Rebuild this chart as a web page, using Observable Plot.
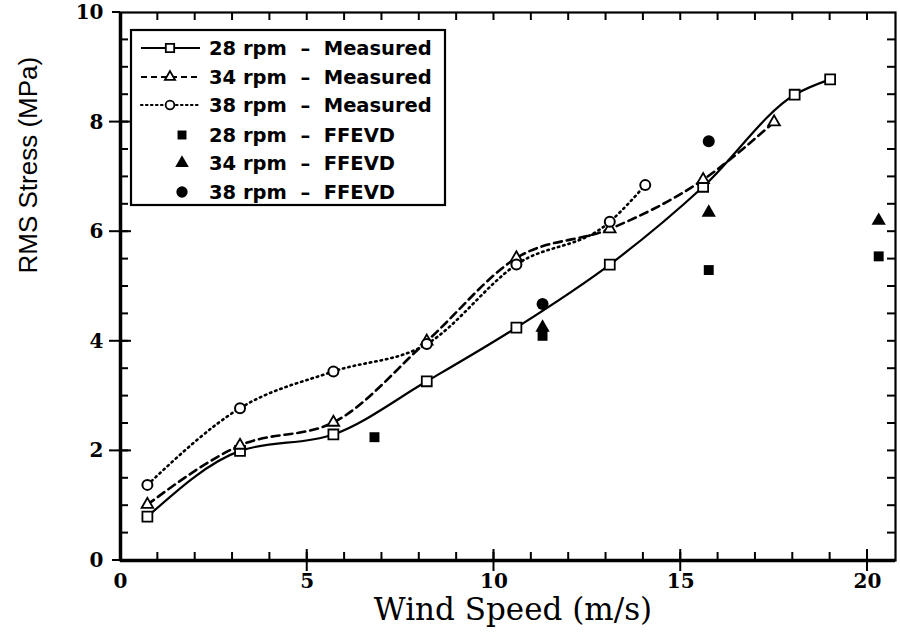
<!DOCTYPE html>
<html><head><meta charset="utf-8">
<script src="https://cdn.jsdelivr.net/npm/d3@7"></script>
<script src="https://cdn.jsdelivr.net/npm/@observablehq/plot@0.6"></script>
<style>
body{margin:0;background:#fff;color:#000}
#wrap{position:relative;width:900px;height:642px}
</style>
</head><body><div id="wrap"></div>
<script>
// ---- data ----
const speed28 = [0.72, 3.2, 5.7, 8.2, 10.6, 13.1, 15.6, 18.05, 19.0];
const stress28 = [0.8, 2.0, 2.3, 3.27, 4.25, 5.4, 6.82, 8.5, 8.78];
const speed34 = [0.72, 3.2, 5.7, 8.2, 10.6, 13.1, 15.6, 17.5];
const stress34 = [1.02, 2.1, 2.52, 4.0, 5.52, 6.05, 6.95, 8.0];
const speed38 = [0.72, 3.2, 5.7, 8.2, 10.6, 13.1, 14.05];
const stress38 = [1.38, 2.78, 3.45, 3.95, 5.4, 6.18, 6.85];
const ffSpeed28 = [6.8, 11.3, 15.75, 20.3];
const ffStress28 = [2.25, 4.1, 5.3, 5.55];
const ffSpeed34 = [11.3, 15.75, 20.3];
const ffStress34 = [4.25, 6.35, 6.2];
const ffSpeed38 = [11.3, 15.75];
const ffStress38 = [4.68, 7.65];
const xTickLabels = [0, 5, 10, 15, 20];
const yTickLabels = [0, 2, 4, 6, 8, 10];
const xMinorTicks = d3.range(1, 21, 1);
const yMinorTicks = d3.range(0.5, 10, 0.5);
const xMajorTicks = [5, 10, 15, 20];
const yMajorTicks = [2, 4, 6, 8];
const legendLabels = ["28 rpm \u00a0\u2013\u00a0 Measured", "34 rpm \u00a0\u2013\u00a0 Measured", "38 rpm \u00a0\u2013\u00a0 Measured",
  "28 rpm \u00a0\u2013\u00a0 FFEVD", "34 rpm \u00a0\u2013\u00a0 FFEVD", "38 rpm \u00a0\u2013\u00a0 FFEVD"];

const rows = (xs, ys) => xs.map((x, i) => ({x, y: ys[i]}));
const m28 = rows(speed28, stress28), m34 = rows(speed34, stress34), m38 = rows(speed38, stress38);
const f28 = rows(ffSpeed28, ffStress28), f34 = rows(ffSpeed34, ffStress34), f38 = rows(ffSpeed38, ffStress38);

const W = 900, H = 642, mL = 120, mR = 5, mT = 12, mB = 82;
const xMax = 20.75, yMax = 10;
const tickFont = {fontFamily: "DejaVu Serif", fontWeight: "bold", fontSize: 20, fill: "#000"};

const chart = Plot.plot({
  width: W, height: H, marginLeft: mL, marginRight: mR, marginTop: mT, marginBottom: mB,
  x: {domain: [0, xMax], axis: null},
  y: {domain: [0, yMax], axis: null},
  style: {background: "#fff", color: "#000", overflow: "visible"},
  marks: [
    Plot.frame({stroke: "#000", strokeWidth: 2.2}),
    Plot.ruleX([0], {stroke: "#000", strokeWidth: 3.5}),
    Plot.ruleY([0], {stroke: "#000", strokeWidth: 3.5}),
    // tick labels
    Plot.text(xTickLabels, {x: d => d, frameAnchor: "bottom", dy: 27, ...tickFont}),
    Plot.text(yTickLabels, {y: d => d, frameAnchor: "left", dx: -17, textAnchor: "end", ...tickFont}),
    // titles
    Plot.text(["Wind Speed (m/s)"], {frameAnchor: "bottom", dy: 59, dx: 5, fontFamily: "DejaVu Serif", fontSize: 31, fill: "#000"}),
    Plot.text(["RMS Stress (MPa)"], {frameAnchor: "left", dx: -92, dy: -13, rotate: -90, fontFamily: "Liberation Sans", fontSize: 26, fill: "#000"}),
    // measured lines
    Plot.line(m28, {x: "x", y: "y", curve: "monotone-x", stroke: "#000", strokeWidth: 2.2}),
    Plot.line(m34, {x: "x", y: "y", curve: "monotone-x", stroke: "#000", strokeWidth: 2.6, strokeDasharray: "8,5"}),
    Plot.line(m38, {x: "x", y: "y", curve: "monotone-x", stroke: "#000", strokeWidth: 2.6, strokeDasharray: "1.5,4", strokeLinecap: "round"}),
    // measured markers
    Plot.dot(m28, {x: "x", y: "y", symbol: "square", r: 5.6, fill: "#fff", stroke: "#000", strokeWidth: 1.8}),
    Plot.dot(m34, {x: "x", y: "y", symbol: "triangle", r: 4.3, fill: "#fff", stroke: "#000", strokeWidth: 1.8}),
    Plot.dot(m38, {x: "x", y: "y", symbol: "circle", r: 5, fill: "#fff", stroke: "#000", strokeWidth: 2}),
    // FFEVD
    Plot.dot(f28, {x: "x", y: "y", symbol: "square", r: 5.6, fill: "#000"}),
    Plot.dot(f34, {x: "x", y: "y", symbol: "triangle", r: 5.3, fill: "#000"}),
    Plot.dot(f38, {x: "x", y: "y", symbol: "circle", r: 6, fill: "#000"})
  ]
});
const wrap = document.getElementById("wrap");
wrap.appendChild(chart);

// tick marks, positioned through the plot's own scales
const sx = chart.scale("x"), sy = chart.scale("y");
const X = v => sx.apply(v), Y = v => sy.apply(v);
const x0 = X(0), x1 = X(xMax), y0 = Y(0), y1 = Y(yMax);
const tk = d3.select(chart).append("g").attr("aria-label", "ticks")
  .attr("stroke", "#000").attr("stroke-width", 2);
const seg = (a, b, c, d) => tk.append("line").attr("x1", a).attr("y1", b).attr("x2", c).attr("y2", d);
xMinorTicks.forEach(v => { seg(X(v), y0, X(v), y0 - 8); seg(X(v), y1, X(v), y1 + 8); });
xMajorTicks.forEach(v => seg(X(v), y0 + 11, X(v), y0 - 11));
yMinorTicks.forEach(v => { seg(x0, Y(v), x0 + 8, Y(v)); seg(x1, Y(v), x1 - 8, Y(v)); });
yMajorTicks.forEach(v => seg(x0 - 11, Y(v), x0 + 11, Y(v)));
[0, yMax].forEach(v => seg(x0 - 8, Y(v), x0, Y(v)));

// legend drawn into the plot's own svg (inside plot area, top-left)
const lg = d3.select(chart).append("g").attr("aria-label", "legend").attr("text-anchor", "start");
lg.append("rect").attr("x", 131).attr("y", 30).attr("width", 314).attr("height", 175)
  .attr("fill", "#fff").attr("stroke", "#000").attr("stroke-width", 2.2);
const rowY = [48, 77, 105, 135, 163, 192];
const dashes = ["none", "6,4", "1.5,3.5"];
const syms = [d3.symbolSquare, d3.symbolTriangle, d3.symbolCircle];
legendLabels.forEach((t, i) => {
  const y = rowY[i];
  const k = i % 3;
  if (i < 3) {
    lg.append("line").attr("x1", 141).attr("x2", 200).attr("y1", y).attr("y2", y)
      .attr("stroke", "#000").attr("stroke-width", 2.2)
      .attr("stroke-dasharray", dashes[k]).attr("stroke-linecap", k === 2 ? "round" : "butt");
    lg.append("path").attr("transform", `translate(170,${y})`)
      .attr("d", d3.symbol(syms[k], [70, 45, 60][k])())
      .attr("fill", "#fff").attr("stroke", "#000").attr("stroke-width", 1.8);
  } else {
    lg.append("path").attr("transform", `translate(182,${y})`)
      .attr("d", d3.symbol(syms[k], [80, 80, 100][k])())
      .attr("fill", "#000");
  }
  lg.append("text").attr("x", 209).attr("y", y).attr("dy", "0.35em")
    .attr("text-anchor", "start")
    .attr("font-family", "DejaVu Sans").attr("font-weight", "bold").attr("font-size", 19.5)
    .attr("fill", "#000")
    .text(t);
});
</script>
</body></html>
